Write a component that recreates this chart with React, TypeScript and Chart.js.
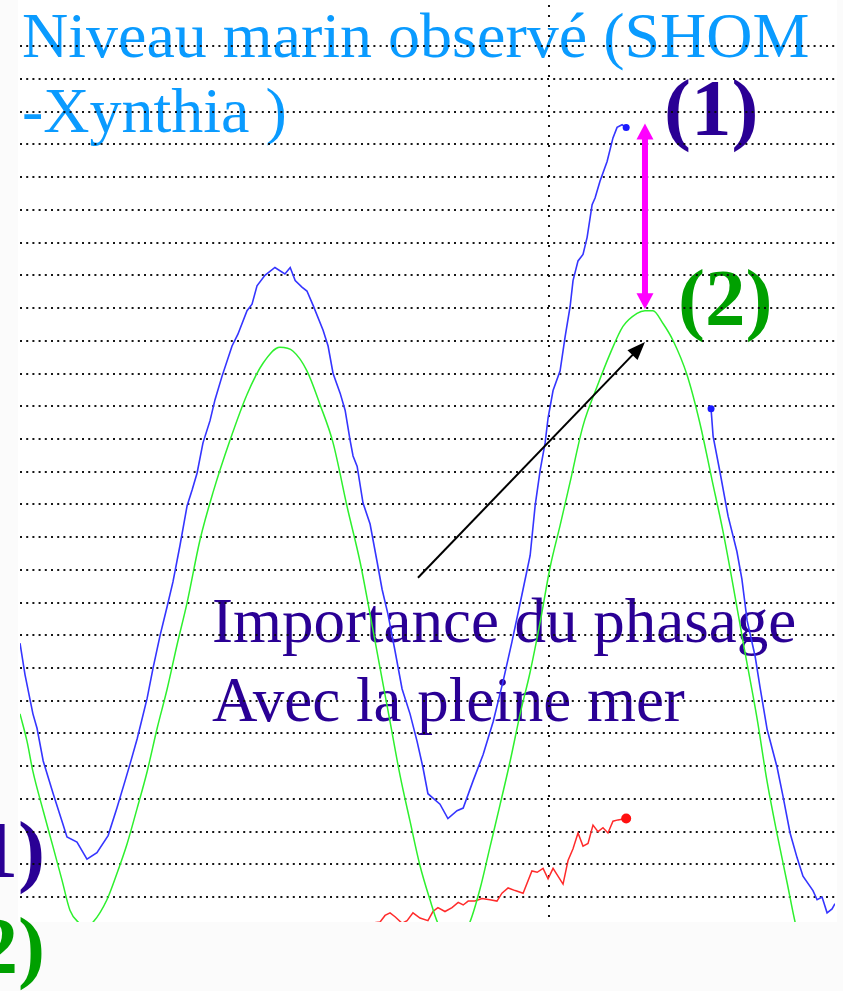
import React, { useEffect, useRef } from 'react';
import { Chart, registerables } from 'chart.js';

Chart.register(...registerables);

// Time in hours relative to the dotted vertical line (midnight), levels in metres
const blueHours = [-18.00, -17.83, -17.56, -17.42, -17.21, -16.87, -16.57, -16.40, -16.06, -15.72, -15.38, -15.00, -14.70, -14.42, -14.25, -14.01, -13.67, -13.47, -13.23, -12.99, -12.79, -12.55, -12.31, -12.14, -11.97, -11.77, -11.53, -11.36, -11.12, -10.78, -10.58, -10.27, -10.10, -9.93, -9.66, -9.32, -8.98, -8.80, -8.63, -8.40, -8.23, -8.02, -7.68, -7.51, -7.34, -7.10, -6.93, -6.76, -6.66, -6.52, -6.32, -6.08, -5.84, -5.67, -5.47, -5.23, -4.99, -4.72, -4.48, -4.28, -4.11, -3.70, -3.43, -3.12, -2.91, -2.57, -2.23, -1.89, -1.55, -1.25, -0.91, -0.63, -0.46, -0.29, -0.12, -0.02, 0.15, 0.39, 0.56, 0.73, 0.83, 1.00, 1.17, 1.31, 1.48, 1.58, 1.75, 1.99, 2.19, 2.33, 2.50, 2.64, 4.10, 5.53, 5.60, 5.84, 6.11, 6.41, 6.58, 6.76, 7.03, 7.20, 7.44, 7.78, 7.98, 8.22, 8.46, 8.66, 9.00, 9.14, 9.31, 9.48, 9.65, 9.75];
const blueLevels = [3.19, 2.95, 2.65, 2.54, 2.29, 2.04, 1.83, 1.71, 1.67, 1.54, 1.59, 1.72, 1.93, 2.14, 2.27, 2.46, 2.77, 3.00, 3.25, 3.47, 3.66, 3.94, 4.24, 4.36, 4.49, 4.72, 4.89, 5.05, 5.23, 5.46, 5.55, 5.73, 5.78, 5.92, 6.00, 6.06, 6.01, 6.06, 5.96, 5.91, 5.88, 5.77, 5.58, 5.46, 5.25, 5.10, 4.97, 4.74, 4.62, 4.54, 4.26, 4.10, 3.81, 3.60, 3.41, 3.13, 2.84, 2.65, 2.44, 2.24, 2.04, 1.96, 1.85, 1.91, 1.93, 2.14, 2.34, 2.59, 2.90, 3.20, 3.56, 3.86, 4.24, 4.51, 4.72, 4.91, 5.12, 5.27, 5.53, 5.76, 5.96, 6.11, 6.16, 6.29, 6.54, 6.59, 6.72, 6.87, 7.05, 7.13, 7.15, 7.13, null, 4.98, 4.77, 4.49, 4.16, 3.89, 3.68, 3.36, 3.09, 2.85, 2.53, 2.24, 2.02, 1.74, 1.55, 1.41, 1.30, 1.23, 1.25, 1.13, 1.16, 1.20];

const greenHours = [-18.00, -17.76, -17.56, -17.21, -16.87, -16.57, -16.30, -16.02, -15.75, -15.51, -15.04, -14.70, -14.35, -14.01, -13.67, -13.33, -12.99, -12.65, -12.31, -11.87, -11.43, -10.85, -10.27, -9.72, -9.15, -8.70, -8.23, -7.78, -7.34, -6.86, -6.42, -6.08, -5.74, -5.40, -5.06, -4.72, -4.38, -4.04, -3.77, -3.49, -3.22, -2.95, -2.68, -2.34, -2.00, -1.65, -1.31, -0.97, -0.63, -0.29, 0.05, 0.39, 0.73, 1.17, 1.65, 2.09, 2.53, 3.01, 3.28, 3.55, 3.90, 4.24, 4.71, 5.15, 5.56, 5.94, 6.28, 6.62, 7.10, 7.44, 7.78, 8.12, 8.39, 8.73];
const greenLevels = [2.65, 2.44, 2.21, 1.91, 1.63, 1.38, 1.15, 1.06, 1.03, 1.06, 1.23, 1.43, 1.66, 1.93, 2.21, 2.54, 2.84, 3.18, 3.50, 3.98, 4.34, 4.74, 5.09, 5.33, 5.45, 5.42, 5.27, 5.01, 4.72, 4.23, 3.81, 3.41, 3.00, 2.59, 2.18, 1.83, 1.49, 1.23, 1.05, 0.96, 0.92, 0.96, 1.06, 1.31, 1.63, 1.96, 2.29, 2.65, 2.97, 3.35, 3.77, 4.09, 4.42, 4.85, 5.15, 5.40, 5.61, 5.71, 5.73, 5.73, 5.63, 5.50, 5.24, 4.87, 4.44, 4.04, 3.63, 3.20, 2.61, 2.13, 1.73, 1.36, 1.06, 0.77];

const redHours = [-6.35, -6.08, -5.74, -5.57, -5.40, -5.23, -4.99, -4.82, -4.62, -4.38, -4.11, -3.94, -3.77, -3.53, -3.29, -3.08, -2.91, -2.74, -2.51, -2.27, -2.00, -1.76, -1.59, -1.38, -1.14, -0.87, -0.57, -0.39, -0.19, -0.02, 0.15, 0.49, 0.66, 0.83, 1.00, 1.17, 1.34, 1.51, 1.68, 1.85, 2.02, 2.19, 2.36, 2.64];
const redLevels = [1.00, 1.05, 1.06, 1.11, 1.13, 1.10, 1.05, 1.07, 1.13, 1.09, 1.07, 1.14, 1.17, 1.14, 1.17, 1.21, 1.19, 1.22, 1.22, 1.24, 1.23, 1.22, 1.28, 1.32, 1.30, 1.28, 1.45, 1.44, 1.47, 1.39, 1.47, 1.35, 1.53, 1.62, 1.74, 1.64, 1.66, 1.80, 1.75, 1.78, 1.74, 1.83, 1.84, 1.85];

const X_MIN = -18;
const X_MAX = 9.75;
const Y_MIN = 1.06;
const Y_MAX = 8.065;
const GRID_STEP = 0.25;
const MARK_HOUR = 0;

const titleLines = ['Niveau marin observé (SHOM', '-Xynthia )'];
const noteLines = ['Importance du phasage', 'Avec la pleine mer'];
const label1 = '(1)';
const label2 = '(2)';

// annotation anchors in data units
const surgeArrow = { x: 3.28, top: 7.16, bottom: 5.74 };
const pointerArrow = { x0: -4.45, y0: 3.69, x1: 3.28, y1: 5.49 };

const PURPLE = '#2a0095';
const GREEN_TXT = '#00a000';
const DOT = 'rgba(10,10,10,0.95)';

function head(ctx: CanvasRenderingContext2D, tx: number, ty: number, fx: number, fy: number, len: number, hw: number) {
  const a = Math.atan2(ty - fy, tx - fx);
  const bx = tx - len * Math.cos(a);
  const by = ty - len * Math.sin(a);
  ctx.beginPath();
  ctx.moveTo(tx, ty);
  ctx.lineTo(bx + hw * Math.sin(a), by - hw * Math.cos(a));
  ctx.lineTo(bx - hw * Math.sin(a), by + hw * Math.cos(a));
  ctx.closePath();
  ctx.fill();
}

const decor = {
  id: 'decor',
  beforeDraw(chart: any) {
    const { ctx, chartArea: a, width, height } = chart;
    ctx.save();
    ctx.fillStyle = '#fbfbfb';
    ctx.fillRect(0, 0, width, height);
    ctx.fillStyle = '#ffffff';
    ctx.fillRect(a.left - 2, 0, a.right - a.left + 4, a.bottom);
    ctx.textBaseline = 'alphabetic';
    ctx.textAlign = 'left';
    ctx.font = '64px "Liberation Serif"';
    ctx.fillStyle = '#0a9bff';
    ctx.fillText(titleLines[0], 22, 57);
    ctx.fillText(titleLines[1], 22, 132);
    ctx.font = '63px "Liberation Serif"';
    ctx.fillStyle = PURPLE;
    ctx.fillText(noteLines[0], 212, 642);
    ctx.fillText(noteLines[1], 212, 721);
    ctx.font = 'bold 81px "Liberation Serif"';
    ctx.fillStyle = PURPLE;
    ctx.fillText(label1, 664, 135);
    ctx.fillStyle = GREEN_TXT;
    ctx.fillText(label2, 678, 325);
    ctx.textAlign = 'right';
    ctx.fillStyle = PURPLE;
    ctx.fillText(label1, 45, 877);
    ctx.fillStyle = GREEN_TXT;
    ctx.fillText(label2, 45, 973);
    ctx.restore();
  },
  afterDatasetsDraw(chart: any) {
    const { ctx } = chart;
    const xs = chart.scales.x;
    const ys = chart.scales.y;
    ctx.save();
    // magenta double arrow
    const mx = xs.getPixelForValue(surgeArrow.x);
    const yt = ys.getPixelForValue(surgeArrow.top);
    const yb = ys.getPixelForValue(surgeArrow.bottom);
    ctx.strokeStyle = '#ff00ff';
    ctx.fillStyle = '#ff00ff';
    ctx.lineWidth = 6;
    ctx.beginPath();
    ctx.moveTo(mx, yt + 12);
    ctx.lineTo(mx, yb - 12);
    ctx.stroke();
    head(ctx, mx, yt, mx, yb, 16, 8.5);
    head(ctx, mx, yb, mx, yt, 16, 8.5);
    // black pointer arrow
    const x0 = xs.getPixelForValue(pointerArrow.x0);
    const y0 = ys.getPixelForValue(pointerArrow.y0);
    const x1 = xs.getPixelForValue(pointerArrow.x1);
    const y1 = ys.getPixelForValue(pointerArrow.y1);
    const ang = Math.atan2(y1 - y0, x1 - x0);
    ctx.strokeStyle = '#000000';
    ctx.fillStyle = '#000000';
    ctx.lineWidth = 2;
    ctx.beginPath();
    ctx.moveTo(x0, y0);
    ctx.lineTo(x1 - 14 * Math.cos(ang), y1 - 14 * Math.sin(ang));
    ctx.stroke();
    head(ctx, x1, y1, x0, y0, 18, 7);
    ctx.restore();
  },
};

function edgeRadius(levels: (number | null)[], r: number) {
  return (c: any) => {
    const i = c.dataIndex;
    if (levels[i] == null) return 0;
    const prevGap = i > 0 && levels[i - 1] == null;
    const nextGap = i < levels.length - 1 && levels[i + 1] == null;
    return prevGap || nextGap ? r : 0;
  };
}

export default function App() {
  const ref = useRef<HTMLCanvasElement | null>(null);
  useEffect(() => {
    if (!ref.current) return;
    const blue = blueHours.map((h, i) => ({ x: h, y: blueLevels[i] }));
    const green = greenHours.map((h, i) => ({ x: h, y: greenLevels[i] }));
    const red = redHours.map((h, i) => ({ x: h, y: redLevels[i] }));
    const chart = new Chart(ref.current, {
      type: 'line',
      data: {
        datasets: [
          {
            label: 'Prédiction',
            data: green,
            borderColor: '#2ef02e',
            borderWidth: 1.5,
            pointRadius: 0,
            cubicInterpolationMode: 'monotone',
            clip: 0,
          },
          {
            label: 'Surcote',
            data: red,
            borderColor: '#ff2b2b',
            backgroundColor: '#ff1010',
            borderWidth: 1.5,
            pointRadius: (c: any) => (c.dataIndex === redLevels.length - 1 ? 5 : 0),
            pointBorderWidth: 0,
            clip: 0,
          },
          {
            label: 'Observé',
            data: blue,
            borderColor: '#3535ff',
            backgroundColor: '#1a1aff',
            borderWidth: 1.6,
            spanGaps: false,
            pointRadius: edgeRadius(blueLevels, 3.5),
            pointBorderWidth: 0,
            clip: 0,
          },
        ] as any,
      },
      options: {
        animation: false,
        responsive: false,
        devicePixelRatio: 1,
        events: [],
        layout: { padding: { left: 20, right: 8, top: 0, bottom: 69 } },
        plugins: { legend: { display: false }, tooltip: { enabled: false } },
        scales: {
          x: {
            type: 'linear',
            min: X_MIN,
            max: X_MAX,
            ticks: { display: false, stepSize: 1 },
            grid: {
              drawTicks: false,
              lineWidth: 2,
              color: (c: any) => (c.tick && Math.abs(c.tick.value - MARK_HOUR) < 1e-6 ? DOT : 'rgba(0,0,0,0)'),
            },
            border: { display: false, dash: [2, 8] },
          },
          y: {
            type: 'linear',
            min: Y_MIN,
            max: Y_MAX,
            ticks: { display: false, stepSize: GRID_STEP },
            grid: {
              drawTicks: false,
              lineWidth: 2,
              color: (c: any) => {
                if (!c.tick) return 'rgba(0,0,0,0)';
                const k = c.tick.value / GRID_STEP;
                return Math.abs(k - Math.round(k)) < 1e-3 ? DOT : 'rgba(0,0,0,0)';
              },
            },
            border: { display: false, dash: [2, 4.2] },
          },
        },
      } as any,
      plugins: [decor],
    });
    return () => chart.destroy();
  }, []);
  return (
    <canvas
      ref={ref}
      width={843}
      height={991}
      style={{ position: 'absolute', left: 0, top: 0, width: 843, height: 991 }}
    />
  );
}
